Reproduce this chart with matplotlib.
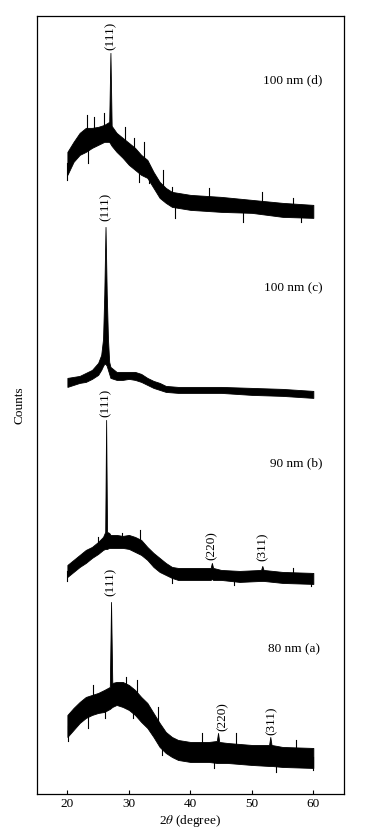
import matplotlib
matplotlib.use("Agg")
import matplotlib.pyplot as plt

plt.rcParams['font.family'] = ['Liberation Serif', 'DejaVu Serif']
plt.rcParams['mathtext.fontset'] = 'stix'

# ---- data (2theta, upper / lower edge of the noisy trace, arbitrary counts) ----
theta_a = [20, 21, 22, 23, 24, 25, 26, 26.9, 27.1, 27.3, 28, 29, 30, 31, 32, 33, 34, 35, 36, 37, 38, 40, 43,
           44.3, 44.5, 44.7, 46, 50, 52.8, 53.0, 53.2, 55, 60]
upper_a = [79, 86, 92, 97, 99, 101, 104, 107, 192, 111, 112, 112, 109, 104, 97, 91, 81, 71, 62, 57, 54, 52, 52,
           53, 61, 52, 51, 49, 49, 57, 49, 47, 46]
lower_a = [57, 64, 71, 76, 79, 81, 82, 85, 86, 87, 89, 87, 84, 79, 72, 66, 57, 47, 41, 37, 34, 32, 32,
           31, 31, 31, 31, 29, 28, 28, 28, 27, 26]
# individual noise spikes visible on the trace (2theta, tip value)
spikes_a = [(24.2, 109), (29.6, 117), (31.3, 114), (34.8, 87), (41.9, 61), (47.4, 61), (57.2, 54),
            (20.1, 53), (23.3, 66), (26.1, 76), (30.7, 76), (35.4, 39), (43.8, 26), (53.9, 22), (59.9, 24)]

theta_b = [20, 21, 22, 23, 24, 25, 25.8, 26.15, 26.3, 26.45, 26.8, 27, 28, 29, 30, 31, 32, 33, 34, 35, 36, 37,
           38, 40, 43.3, 43.5, 43.7, 45, 48, 51.5, 51.7, 51.9, 55, 60]
upper_b = [229, 234, 239, 244, 247, 252, 257, 262, 374, 262, 261, 259, 259, 258, 259, 257, 254, 247, 241, 236,
           231, 227, 226, 226, 226, 231, 226, 224, 223, 224, 228, 224, 222, 221]
lower_b = [217, 222, 227, 231, 236, 240, 244, 245, 245, 245, 246, 246, 246, 246, 245, 242, 239, 234, 227, 222,
           219, 216, 214, 214, 214, 215, 214, 214, 212, 213, 213, 213, 211, 210]
spikes_b = [(24.9, 257), (28.8, 261), (31.8, 264), (56.7, 226),
            (20.0, 213), (37.0, 211), (47.1, 209), (59.7, 208)]

theta_c = [20, 21, 22, 23, 24, 25, 25.5, 25.8, 26.0, 26.2, 26.4, 26.6, 26.8, 27, 28, 29, 30, 31, 32, 33, 34,
           35, 36, 38, 40, 45, 50, 55, 60]
upper_c = [416, 417, 418, 421, 424, 431, 439, 455, 500, 567, 500, 455, 432, 427, 422, 422, 422, 422, 420, 416,
           413, 411, 408, 407, 407, 407, 406, 405, 403]
lower_c = [407, 409, 411, 412, 415, 419, 424, 428, 430, 430, 428, 424, 420, 416, 414, 414, 415, 414, 412, 409,
           406, 404, 402, 401, 401, 401, 399, 398, 396]
spikes_c = []

theta_d = [20, 21, 22, 23, 24, 25, 26, 26.8, 27.0, 27.2, 28, 29, 30, 31, 32, 33, 34, 35, 36, 37, 38, 40, 45,
           50, 55, 60]
upper_d = [642, 652, 661, 666, 666, 667, 669, 672, 741, 668, 661, 656, 651, 646, 639, 634, 622, 612, 606, 602,
           601, 599, 597, 594, 591, 589]
lower_d = [619, 632, 639, 642, 646, 649, 652, 652, 650, 648, 642, 636, 629, 624, 619, 616, 606, 596, 591, 587,
           586, 584, 582, 581, 577, 576]
spikes_d = [(23.2, 679), (24.4, 677), (26.0, 681), (29.3, 667), (30.9, 656), (32.5, 652), (35.6, 624),
            (37.0, 607), (43.0, 606), (51.7, 602), (56.7, 596),
            (20.0, 614), (23.3, 631), (31.6, 612), (33.3, 611), (37.5, 576), (48.5, 572), (58.0, 572)]

series = [(theta_a, upper_a, lower_a, spikes_a), (theta_b, upper_b, lower_b, spikes_b),
          (theta_c, upper_c, lower_c, spikes_c), (theta_d, upper_d, lower_d, spikes_d)]

sample_labels = ["80 nm (a)", "90 nm (b)", "100 nm (c)", "100 nm (d)"]
sample_label_pos = [(56.9, 145), (57.2, 331), (56.7, 506), (56.7, 714)]

peak_labels = ["(111)", "(220)", "(311)",
               "(111)", "(220)", "(311)",
               "(111)", "(111)"]
peak_label_pos = [(27.1, 212), (45.3, 77), (53.2, 73),
                  (26.3, 391), (43.5, 248), (51.7, 247),
                  (26.3, 587), (27.0, 758)]

xticks = [20, 30, 40, 50, 60]

fig = plt.figure(figsize=(3.74, 8.34), dpi=100)
ax = fig.add_axes([0.098, 0.048, 0.822, 0.933])

for th, up, lo, sp in series:
    ax.fill_between(th, lo, up, color='black', linewidth=0.6, edgecolor='black')
    for x, tip in sp:
        # spike starts at the band centre at that angle
        i = max(k for k in range(len(th)) if th[k] <= x)
        mid = (up[i] + lo[i]) / 2.0
        ax.plot([x, x], [mid, tip], color='black', linewidth=0.8)

for txt, (x, y) in zip(sample_labels, sample_label_pos):
    ax.text(x, y, txt, ha='center', va='center', fontsize=9.5)

for txt, (x, y) in zip(peak_labels, peak_label_pos):
    ax.text(x, y, txt, ha='center', va='center', rotation=90, fontsize=9.5)

ax.set_xlim(15, 65)
ax.set_ylim(0, 778)
ax.set_xticks(xticks)
ax.set_yticks([])
ax.tick_params(axis='x', direction='in', length=3, width=0.8, labelsize=9.5, pad=3)
for s in ax.spines.values():
    s.set_linewidth(0.9)
ax.set_xlabel(r'2$\theta$ (degree)', fontsize=9.5, labelpad=2)
ax.set_ylabel('Counts', fontsize=9.5, labelpad=8)

fig.savefig('out.png', dpi=100)
